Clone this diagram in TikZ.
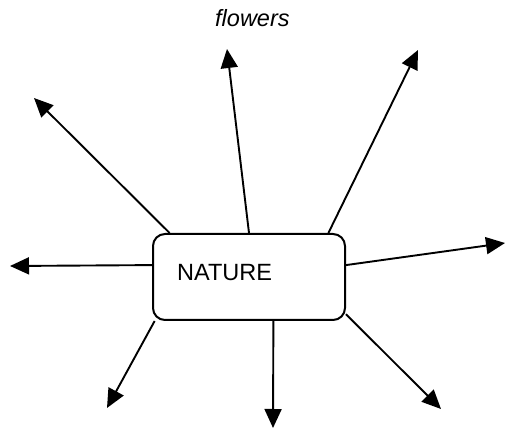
\documentclass[tikz,border=0pt]{standalone}
\usepackage{fontspec}
\setmainfont{Liberation Sans}
\usetikzlibrary{arrows.meta,backgrounds}
\tikzset{
  conn/.style={line width=1.9pt,-{Triangle[length=19pt,width=17pt]}},
  mainbox/.style={draw,line width=2pt,rounded corners=12pt,fill=white,minimum width=192pt,minimum height=86pt,inner sep=0pt},
  lbl/.style={inner sep=0pt,anchor=base west,font=\fontsize{23.5pt}{26pt}\selectfont}
}
\begin{document}
\begin{tikzpicture}[x=1pt,y=-1pt]
\useasboundingbox (0,0) rectangle (506,430);
\node[mainbox] (box) at (249,277) {};
\node[lbl] (nat) at (177,281) {NATURE};
\node[lbl,font=\fontsize{23.5pt}{26pt}\selectfont\itshape] (flw) at (215,27) {flowers};
\coordinate (t1) at (34,98);
\coordinate (t2) at (227,49);
\coordinate (t3) at (418,50);
\coordinate (t4) at (10,266);
\coordinate (t5) at (505,243);
\coordinate (t6) at (107,408);
\coordinate (t7) at (273,428);
\coordinate (t8) at (441,409);
\begin{scope}[on background layer]
\draw[conn] (box.151.2) -- (t1);
\draw[conn] (box.north) -- (t2);
\draw[conn] (box.29.7) -- (t3);
\draw[conn] (box.173.5) -- (t4);
\draw[conn] (box.7.1) -- (t5);
\draw[conn] (box.205) -- (t6);
\draw[conn] (box.299.2) -- (t7);
\draw[conn] (box.339.4) -- (t8);
\end{scope}
\end{tikzpicture}
\end{document}
